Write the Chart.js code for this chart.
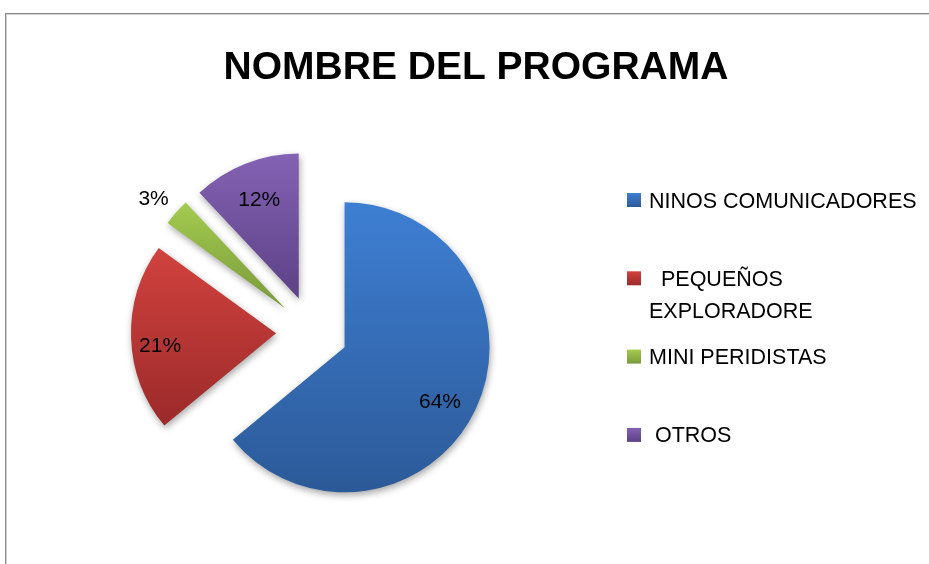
<!DOCTYPE html>
<html>
<head>
<meta charset="utf-8">
<title>Nombre del programa</title>
<script src="https://cdn.jsdelivr.net/npm/chart.js@4.4.1/dist/chart.umd.min.js"></script>
<style>
    html, body { margin: 0; padding: 0; background: #fff; overflow: hidden; }
    /* frame of the chart object, its right and bottom edges are off the page */
    #frame {
        position: absolute; left: 5px; top: 13px; width: 1000px; height: 1000px;
        border-top: 1px solid #8a8a8a; border-left: 1px solid #8a8a8a;
        box-shadow: inset 1px 1px 0 #d4d4d4;
    }
    #pie-chart { position: absolute; left: 0; top: 0; }
</style>
</head>
<body>
<div id="frame"></div>
<canvas id="pie-chart" width="929" height="564"></canvas>
<script>
/* ======== DATA ======== */
const chartTitle = "NOMBRE DEL PROGRAMA"
const categories = [["NINOS COMUNICADORES"], ["  PEQUEÑOS", "EXPLORADORE"], ["MINI PERIDISTAS"], [" OTROS"]]
const shares = [64, 21, 3, 12]

/* ======== STYLE ======== */
const topColors = ["#3e7fd3", "#d1423e", "#a4cb50", "#8462b4"]
const bottomColors = ["#2c5a98", "#9b2a2a", "#789a39", "#5c4185"]
const labelDistance = [0.75, 0.8, 1.19, 0.74]   // share of radius from slice apex
const labelNudge = [[-3, 7], [0, 8], [-2, 3], [0, 0]]
const RADIUS = 145
const EXPLODE = 36
const FONT = "'Liberation Sans', Arial, sans-serif"

function pieCenter(chart) {
    const a = chart.chartArea
    return {x: (a.left + a.right) / 2, y: (a.top + a.bottom) / 2}
}

// vertical extent of one exploded slice, used for its shading
function sliceSpan(chart, i) {
    const c = pieCenter(chart)
    const total = shares.reduce((s, v) => s + v, 0)
    const before = shares.slice(0, i).reduce((s, v) => s + v, 0)
    const start = -Math.PI / 2 + before / total * 2 * Math.PI
    const end = start + shares[i] / total * 2 * Math.PI
    const mid = (start + end) / 2
    const oy = c.y + Math.sin(mid) * EXPLODE
    let top = oy, bottom = oy
    for (let t = start; t <= end; t += 0.01) {
        const y = oy + Math.sin(t) * RADIUS
        top = Math.min(top, y)
        bottom = Math.max(bottom, y)
    }
    return [top, bottom]
}

function sliceFill(ctx) {
    const chart = ctx.chart
    const i = ctx.dataIndex
    if (!chart.chartArea || i === undefined) return topColors[i || 0]
    const [top, bottom] = sliceSpan(chart, i)
    const g = chart.ctx.createLinearGradient(0, top, 0, bottom)
    g.addColorStop(0, topColors[i])
    g.addColorStop(1, bottomColors[i])
    return g
}

/* ======== PLUGINS ======== */
// pulls every slice out from the centre along its middle angle, with a soft shadow
const explodePlugin = {
    id: "explode",
    beforeDatasetsDraw(chart) {
        const c = pieCenter(chart)
        chart.getDatasetMeta(0).data.forEach((arc) => {
            const mid = (arc.startAngle + arc.endAngle) / 2
            arc.x = c.x + Math.cos(mid) * EXPLODE
            arc.y = c.y + Math.sin(mid) * EXPLODE
        })
        const ctx = chart.ctx
        ctx.save()
        ctx.shadowColor = "rgba(0,0,0,0.35)"
        ctx.shadowBlur = 7
        ctx.shadowOffsetX = 1
        ctx.shadowOffsetY = 3
    },
    afterDatasetsDraw(chart) {
        const ctx = chart.ctx
        ctx.restore()
        const total = shares.reduce((s, v) => s + v, 0)
        ctx.save()
        ctx.font = "21px " + FONT
        ctx.fillStyle = "#000"
        ctx.textAlign = "center"
        ctx.textBaseline = "alphabetic"
        chart.getDatasetMeta(0).data.forEach((arc, i) => {
            const mid = (arc.startAngle + arc.endAngle) / 2
            const d = arc.outerRadius * labelDistance[i]
            const x = arc.x + Math.cos(mid) * d + labelNudge[i][0]
            const y = arc.y + Math.sin(mid) * d + labelNudge[i][1]
            ctx.fillText(Math.round(shares[i] / total * 100) + "%", x, y + 7.5)
        })
        ctx.restore()
    }
}

// title and legend in the spots the original chart used
const titleLegendPlugin = {
    id: "titleLegend",
    afterDraw(chart) {
        const ctx = chart.ctx
        ctx.save()
        ctx.fillStyle = "#000"
        ctx.textAlign = "center"
        ctx.font = "bold 39px " + FONT
        ctx.fillText(chartTitle, 476, 79)

        ctx.textAlign = "left"
        ctx.font = "21.5px " + FONT
        categories.forEach((lines, i) => {
            const cy = 200 + i * 78.3
            const g = ctx.createLinearGradient(0, cy - 7, 0, cy + 7)
            g.addColorStop(0, topColors[i])
            g.addColorStop(1, bottomColors[i])
            ctx.fillStyle = g
            ctx.fillRect(627, cy - 7, 14, 14)
            ctx.fillStyle = "#000"
            lines.forEach((line, k) => {
                ctx.fillText(line, 649, cy + 7.5 + k * 32)
            })
        })
        ctx.restore()
    }
}

/* ======== CHART ======== */
const ctxPie = document.getElementById("pie-chart").getContext("2d")
const pieChart = new Chart(ctxPie, {
    type: "pie",
    data: {
        labels: categories,
        datasets: [{
            data: shares,
            backgroundColor: sliceFill,
            borderWidth: 0
        }]
    },
    options: {
        responsive: false,
        animation: false,
        radius: RADIUS,
        layout: {
            padding: {left: 112, right: 417, top: 132, bottom: 32}
        },
        plugins: {
            legend: {display: false},
            title: {display: false},
            tooltip: {enabled: false}
        }
    },
    plugins: [explodePlugin, titleLegendPlugin]
})
</script>
</body>
</html>
